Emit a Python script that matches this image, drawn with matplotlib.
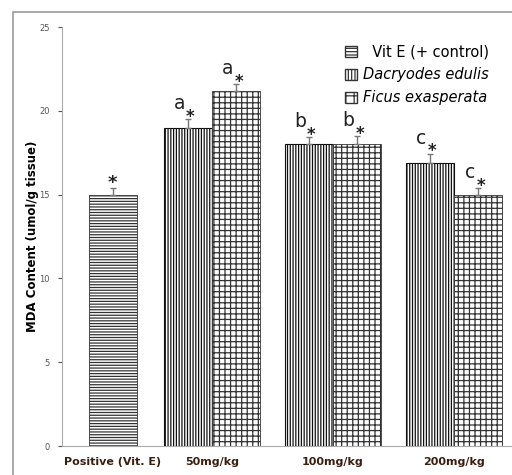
import matplotlib.pyplot as plt
from matplotlib.patches import Patch, Rectangle

# data
groups = ["Positive (Vit. E)", "50mg/kg", "100mg/kg", "200mg/kg"]
vit_e = [15.0]
vit_e_err = [0.4]
dacryodes = [19.0, 18.0, 16.9]
dacryodes_err = [0.5, 0.45, 0.55]
ficus = [21.2, 18.0, 15.0]
ficus_err = [0.4, 0.5, 0.4]
dacryodes_letters = ["a", "b", "c"]
ficus_letters = ["a", "b", "c"]

plt.rcParams['hatch.linewidth'] = 0.9

fig = plt.figure(figsize=(5.12, 4.75), dpi=100)
ax = fig.add_axes([0.121, 0.061, 0.879, 0.882])

# outer frame like the original screenshot
fig.patches.append(Rectangle((13 / 512, -0.1), 1.2, (475 - 12) / 475 + 0.1,
                             transform=fig.transFigure, fill=False,
                             edgecolor="#9a9a9a", linewidth=1.2))

pos_x = [0.18, 1, 2, 3]
w = 0.4
err_kw = dict(ecolor="#777777", elinewidth=1.0, capsize=2.5, capthick=1.0)

ax.bar(pos_x[0], vit_e, w, yerr=[[0], vit_e_err], color="white",
       edgecolor="#333333", linewidth=0.6, hatch="------", error_kw=err_kw)
d_x = [x - w / 2 for x in pos_x[1:]]
f_x = [x + w / 2 for x in pos_x[1:]]
ax.bar(d_x, dacryodes, w, yerr=[[0] * 3, dacryodes_err], color="white",
       edgecolor="#111111", linewidth=0.8, hatch="||||||", error_kw=err_kw)
ax.bar(f_x, ficus, w, yerr=[[0] * 3, ficus_err], color="white",
       edgecolor="#333333", linewidth=0.6, hatch="+++", error_kw=err_kw)

# significance marks
ax.text(pos_x[0], vit_e[0] + vit_e_err[0] - 0.25, "*", ha="center",
        va="bottom", fontsize=13, fontweight="bold", color="#222222")
for xs, vals, errs, letters in [(d_x, dacryodes, dacryodes_err, dacryodes_letters),
                                (f_x, ficus, ficus_err, ficus_letters)]:
    for x, v, e, l in zip(xs, vals, errs, letters):
        ax.text(x + 0.02, v + e - 0.4, "*", ha="center", va="bottom",
                fontsize=12, fontweight="bold", color="#222222")
        ax.text(x - 0.07, v + e + 0.35, l, ha="center", va="bottom",
                fontsize=13.5, color="#222222")

ax.set_xlim(-0.24, 3.48)
ax.set_ylim(0, 25)
ax.set_yticks([0, 5, 10, 15, 20, 25])
ax.tick_params(axis="y", labelsize=6, colors="#555555", length=3,
               direction="out", pad=6)
ax.set_xticks(pos_x)
ax.set_xticklabels(groups, fontsize=8, fontweight="bold", color="#3a2010")
ax.tick_params(axis="x", length=0, pad=8)
ax.set_ylabel("MDA Content (umol/g tissue)", fontsize=8.5, fontweight="bold")
ax.yaxis.set_label_coords(-0.05, 0.5)

for s in ["top", "right"]:
    ax.spines[s].set_visible(False)
ax.spines["left"].set_color("#aaaaaa")
ax.spines["bottom"].set_color("#aaaaaa")

handles = [Patch(facecolor="white", edgecolor="#333333", hatch="-----"),
           Patch(facecolor="white", edgecolor="#333333", hatch="|||||"),
           Patch(facecolor="white", edgecolor="#333333", hatch="++")]
leg = ax.legend(handles, ["  Vit E (+ control)", "Dacryodes edulis",
                          "Ficus exasperata"],
                loc="upper left", bbox_to_anchor=(0.6, 0.99), frameon=False,
                fontsize=10.5, handlelength=0.8, handleheight=0.8,
                handletextpad=0.4, labelspacing=0.55)
for t in leg.get_texts()[1:]:
    t.set_style("italic")

fig.savefig("out.png", dpi=100)
